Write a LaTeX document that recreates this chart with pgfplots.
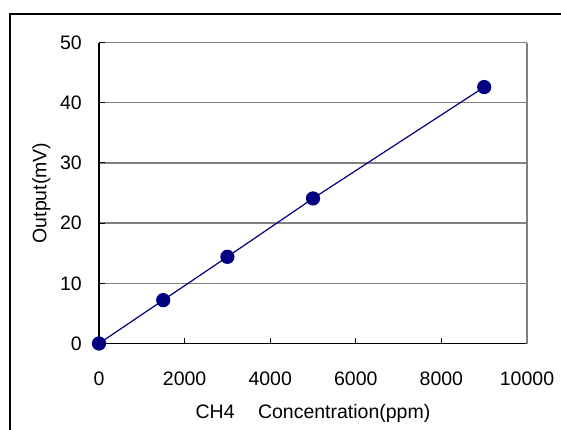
\documentclass[border=0pt]{standalone}
\usepackage{fontspec}
\setmainfont{Liberation Sans}
\usepackage{pgfplots}
\pgfplotsset{compat=1.18}
\definecolor{navy}{RGB}{0,0,128}
\definecolor{gridgray}{RGB}{128,128,128}
\newcommand{\chartfont}{\fontsize{19.5}{23}\selectfont}
\begin{document}
\begin{tikzpicture}[x=1pt,y=1pt, font=\chartfont]
\useasboundingbox (0,0) rectangle (561,429);
\draw[line width=1.6pt] (10,-5) -- (10,415) -- (570,415);
\begin{axis}[
  at={(99pt,85.5pt)}, anchor=south west, scale only axis, width=428pt, height=301pt,
  xmin=0,xmax=10000,ymin=0,ymax=50,
  axis x line*=bottom, axis y line*=left,
  xtick={0,2000,...,10000}, ytick={0,10,...,50},
  tick align=inside, major tick length=6pt,
  ymajorgrids, major grid style={gridgray, line width=1.3pt},
  axis line style={line width=1.4pt, black},
  tick style={black, line width=1pt},
  /pgf/number format/assume math mode=true,
  /pgf/number format/set thousands separator={},
  scaled x ticks=false,
  tick label style={font=\chartfont},
  label style={font=\chartfont},
  xticklabel style={anchor=north, inner sep=0pt, yshift=-28pt},
  yticklabel style={anchor=east, inner sep=0pt, xshift=-17pt},
  xlabel={CH4\hspace{1.2em}Concentration(ppm)},
  ylabel={Output(mV)},
  every axis x label/.style={at={(axis description cs:0.5,-0.232)}, anchor=center},
  every axis y label/.style={at={(axis description cs:-0.135,0.5)}, anchor=center, rotate=90},
  clip=false,
]
\draw[gridgray, line width=1.3pt] (rel axis cs:1,0) -- (rel axis cs:1,1);
\addplot[navy, line width=1.2pt, mark=*, mark size=6.5pt, mark options={fill=navy, draw=navy}] coordinates {(0,0) (1500,7.2) (3000,14.4) (5000,24.1) (9000,42.6)};
\end{axis}
\end{tikzpicture}
\end{document}
